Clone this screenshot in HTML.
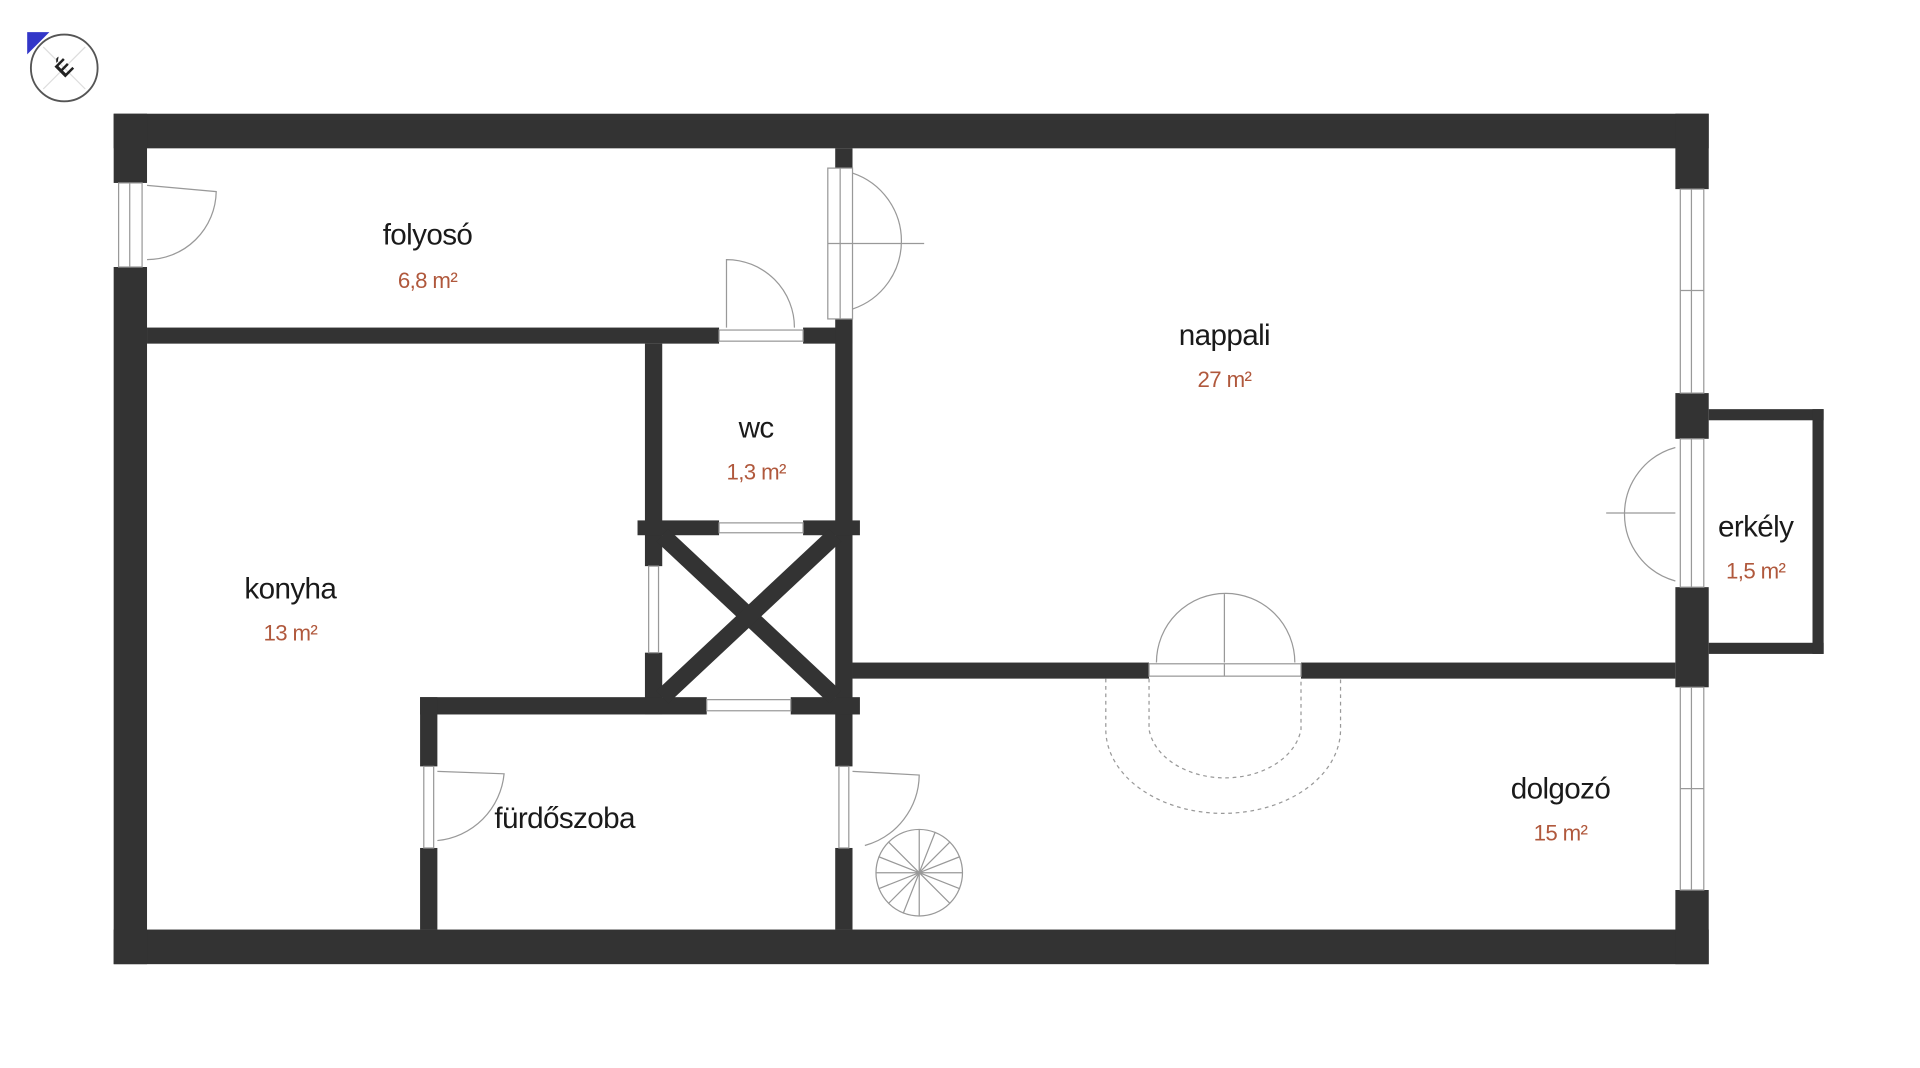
<!DOCTYPE html>
<html><head><meta charset="utf-8"><style>
html,body{margin:0;padding:0;background:#fff;}
svg{display:block}
.l{font-family:"Liberation Sans",sans-serif;font-size:24px;fill:#1a1a1a;text-anchor:middle;letter-spacing:-0.5px}
.a{font-family:"Liberation Sans",sans-serif;font-size:18px;fill:#b0583c;text-anchor:middle;letter-spacing:-0.5px}
</style></head><body>
<svg width="1920" height="1068" viewBox="0 0 1554 864" preserveAspectRatio="none" xmlns="http://www.w3.org/2000/svg">
<rect width="1554" height="864" fill="#fff"/>
<!-- compass -->
<polygon points="22,26 40,26 22,44" fill="#3236c8"/>
<circle cx="52" cy="55" r="27" fill="#fff" stroke="#555" stroke-width="1.5"/>
<line x1="35" y1="38" x2="69" y2="72" stroke="#ddd" stroke-width="1"/>
<line x1="69" y1="38" x2="35" y2="72" stroke="#ddd" stroke-width="1"/>
<text x="52" y="61" font-family="Liberation Sans,sans-serif" font-size="18" font-weight="bold" text-anchor="middle" fill="#222" transform="rotate(-45 52 55)">É</text>
<g fill="#333">
<!-- outer -->
<rect x="92" y="92" width="1291" height="28"/>
<rect x="92" y="752" width="1291" height="28"/>
<rect x="92" y="92" width="27" height="56"/>
<rect x="92" y="216" width="27" height="564"/>
<rect x="1356" y="92" width="27" height="61"/>
<rect x="1356" y="318" width="27" height="37"/>
<rect x="1356" y="475" width="27" height="81"/>
<rect x="1356" y="720" width="27" height="60"/>
<!-- erkely -->
<rect x="1383" y="331" width="93" height="9"/>
<rect x="1383" y="520" width="93" height="9"/>
<rect x="1467" y="331" width="9" height="198"/>
<!-- folyoso bottom -->
<rect x="119" y="265" width="463" height="13"/>
<rect x="650" y="265" width="40" height="13"/>
<!-- vertical folyoso/nappali -->
<rect x="676" y="120" width="14" height="16"/>
<rect x="676" y="258" width="14" height="362"/>
<rect x="676" y="686" width="14" height="66"/>
<!-- wc left -->
<rect x="522" y="278" width="14" height="180"/>
<rect x="522" y="528" width="14" height="50"/>
<!-- wc bottom -->
<rect x="516" y="421" width="66" height="12"/>
<rect x="650" y="421" width="46" height="12"/>
<!-- furdo top -->
<rect x="340" y="564" width="232" height="14"/>
<rect x="640" y="564" width="56" height="14"/>
<!-- furdo left -->
<rect x="340" y="564" width="14" height="56"/>
<rect x="340" y="686" width="14" height="66"/>
<!-- nappali/dolgozo -->
<rect x="690" y="536" width="240" height="13"/>
<rect x="1053" y="536" width="303" height="13"/>
</g>
<!-- X shaft -->
<line x1="536" y1="433" x2="676" y2="564" stroke="#333" stroke-width="14"/>
<line x1="676" y1="433" x2="536" y2="564" stroke="#333" stroke-width="14"/>
<g fill="none" stroke="#999" stroke-width="1">
<!-- windows -->
<rect x="96" y="148" width="19" height="68"/><line x1="105" y1="148" x2="105" y2="216"/>
<rect x="1360" y="153" width="19" height="165"/><line x1="1369" y1="153" x2="1369" y2="318"/><line x1="1360" y1="235" x2="1379" y2="235"/>
<rect x="1360" y="355" width="19" height="120"/><line x1="1369" y1="355" x2="1369" y2="475"/>
<rect x="1360" y="556" width="19" height="164"/><line x1="1369" y1="556" x2="1369" y2="720"/><line x1="1360" y1="638" x2="1379" y2="638"/>
<rect x="670" y="136" width="20" height="122"/><line x1="680" y1="136" x2="680" y2="258"/><line x1="670" y1="197" x2="690" y2="197"/>
<rect x="582" y="267" width="68" height="9"/>
<rect x="582" y="423" width="68" height="8"/>
<rect x="525" y="458" width="8" height="70"/>
<rect x="572" y="566" width="68" height="9"/>
<rect x="343" y="620" width="8" height="66"/>
<rect x="679" y="620" width="8" height="66"/>
<rect x="930" y="537" width="123" height="10"/><line x1="991" y1="537" x2="991" y2="547"/>
<!-- door swings -->
<path d="M119 150 L175 155 A56 56 0 0 1 119 210"/>
<path d="M588 265 L588 210 A55 55 0 0 1 643 265"/>
<path d="M690 140 A58 58 0 0 1 690 250 M690 197 L748 197"/>
<path d="M1356 362 A56 56 0 0 0 1356 470 M1300 415 L1356 415"/>
<path d="M936 536 A56 56 0 0 1 1048 536 M991 480 L991 536"/>
<path d="M354 624 L408 626 A60 60 0 0 1 354 680"/>
<path d="M690 624 L744 627 A60 60 0 0 1 700 684"/>
<!-- stairs -->
<path d="M930 549 L930 590 A62 45 0 0 0 1053 590 L1053 549" stroke-dasharray="3,3"/>
<path d="M895 549 L895 590 A95 68 0 0 0 1085 590 L1085 549" stroke-dasharray="3,3"/>
<circle cx="744" cy="706" r="35"/>
<path d="M744 706 L744 671 M744 706 L769 681 M744 706 L779 706 M744 706 L769 731 M744 706 L744 741 M744 706 L719 731 M744 706 L709 706 M744 706 L719 681 M744 706 L757 673 M744 706 L777 693 M744 706 L777 719 M744 706 L731 739 M744 706 L711 719 M744 706 L711 693"/>
</g>
<text class="l" x="346" y="198">folyosó</text><text class="a" x="346" y="233">6,8 m²</text>
<text class="l" x="991" y="279">nappali</text><text class="a" x="991" y="313">27 m²</text>
<text class="l" x="612" y="354">wc</text><text class="a" x="612" y="388">1,3 m²</text>
<text class="l" x="235" y="484">konyha</text><text class="a" x="235" y="518">13 m²</text>
<text class="l" x="457" y="670">fürdőszoba</text>
<text class="l" x="1263" y="646">dolgozó</text><text class="a" x="1263" y="680">15 m²</text>
<text class="l" x="1421" y="434">erkély</text><text class="a" x="1421" y="468">1,5 m²</text>
</svg>
</body></html>
